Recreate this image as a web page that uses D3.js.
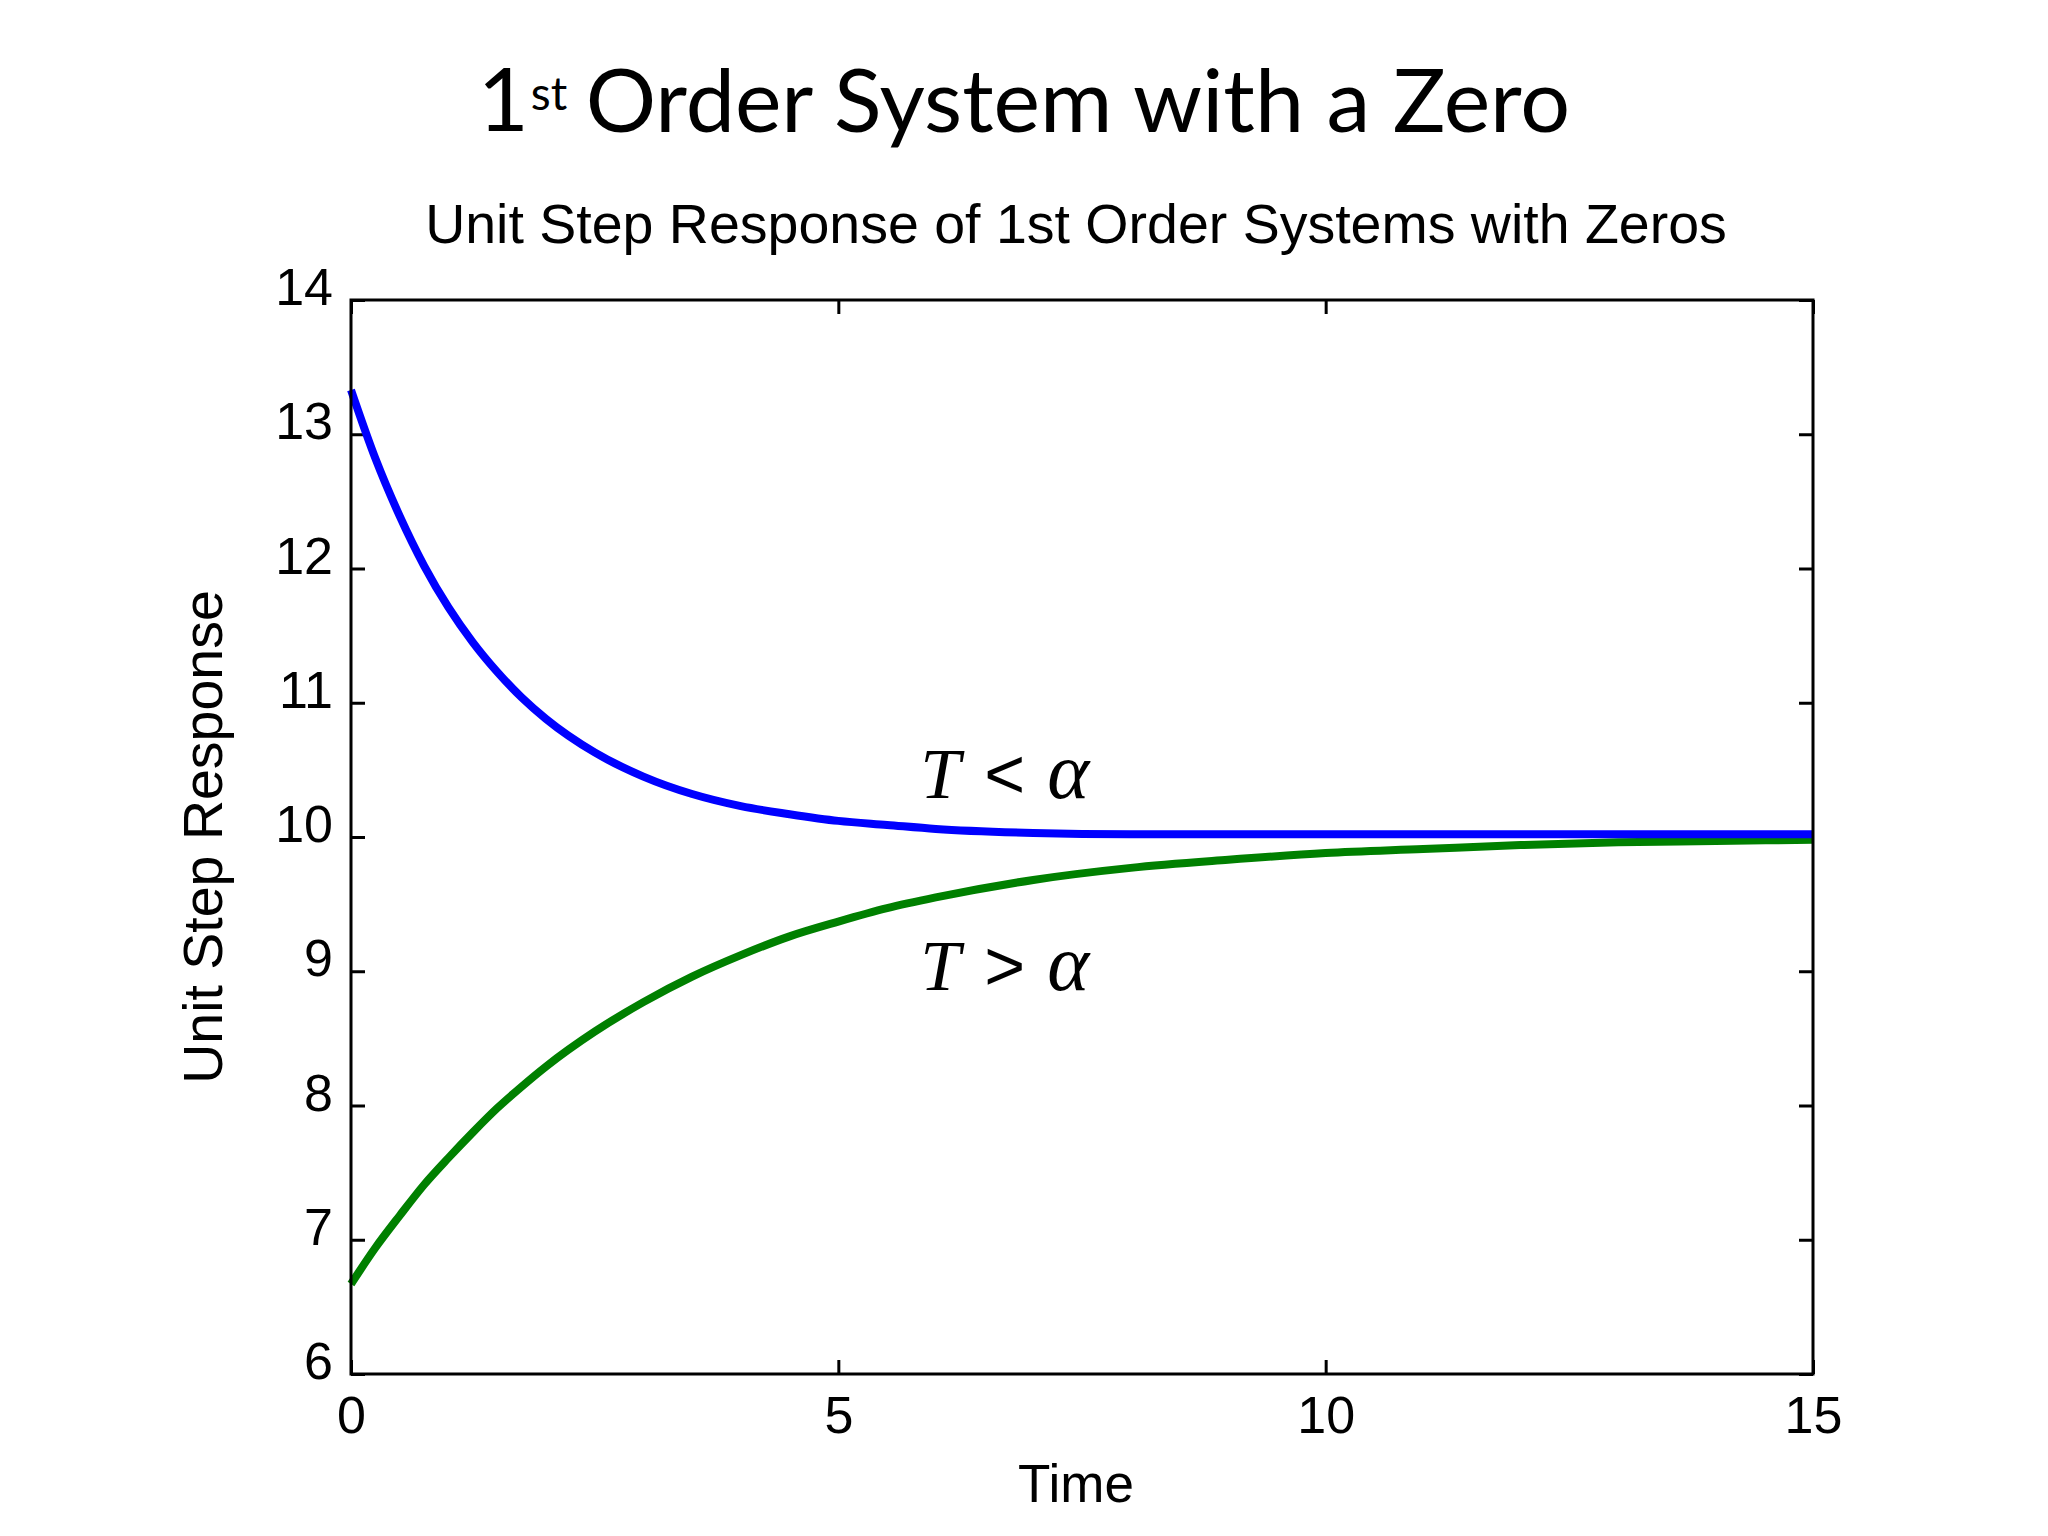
<!DOCTYPE html>
<html>
<head>
<meta charset="utf-8">
<script src="https://cdn.jsdelivr.net/npm/d3@7"></script>
<style>
  body { margin: 0; background: #fff; }
  svg text { font-family: "Liberation Sans", Arial, Helvetica, sans-serif; fill: #000; }
</style>
</head>
<body>
<svg id="chart"></svg>
<script>
// values
let times = [0, 0.25, 0.5, 0.75, 1, 1.25, 1.5, 1.75, 2, 2.5, 3, 3.5, 4, 4.5, 5, 5.5, 6, 7, 8, 9, 10, 11, 12, 13, 14, 15];
// T < alpha (blue)
let fastValues = [13.33, 12.82, 12.39, 12.02, 11.71, 11.45, 11.23, 11.04, 10.88, 10.63, 10.45, 10.32, 10.23, 10.17, 10.12, 10.09, 10.06, 10.03, 10.02, 10.02, 10.02, 10.02, 10.02, 10.02, 10.02, 10.02];
// T > alpha (green)
let slowValues = [6.67, 6.94, 7.18, 7.41, 7.61, 7.80, 7.98, 8.14, 8.29, 8.55, 8.77, 8.96, 9.12, 9.26, 9.37, 9.47, 9.55, 9.68, 9.77, 9.83, 9.88, 9.91, 9.94, 9.96, 9.97, 9.98];
let xTicks = [0, 5, 10, 15];
let yTicks = [6, 7, 8, 9, 10, 11, 12, 13, 14];

let width = 2048, height = 1536;
let margin = {top: 300, right: 235, bottom: 162, left: 351};

let svg = d3.select('#chart')
            .attr("width", width)
            .attr("height", height);

let x = d3.scaleLinear().domain([0, 15]).range([margin.left, width - margin.right]);
let y = d3.scaleLinear().domain([6, 14]).range([height - margin.bottom, margin.top]);

// slide title
let title = svg.append("text")
    .attr("x", 1024)
    .attr("y", 131)
    .attr("text-anchor", "middle")
    .style("font-family", "Lato, 'Open Sans', sans-serif")
    .style("font-size", "88px");
title.append("tspan").text("1");
title.append("tspan").attr("dy", "-0.46em").attr("dx", 2).style("font-size", "46px").text("st");
title.append("tspan").attr("dy", "0.25em").attr("dx", -4).text(" Order System with a Zero");

// plot title
svg.append("text")
    .attr("x", 1076)
    .attr("y", 243)
    .attr("text-anchor", "middle")
    .style("font-size", "55.5px")
    .text("Unit Step Response of 1st Order Systems with Zeros");

let tick = 14;

// bottom axis
let axBottom = svg.append("g")
    .attr("transform", "translate(0," + y(6) + ")")
    .call(d3.axisBottom(x).tickValues(xTicks).tickSizeInner(-tick).tickSizeOuter(0).tickPadding(22));
// top axis
let axTop = svg.append("g")
    .attr("transform", "translate(0," + y(14) + ")")
    .call(d3.axisTop(x).tickValues(xTicks).tickSizeInner(-tick).tickSizeOuter(0).tickFormat(""));
// left axis
let axLeft = svg.append("g")
    .attr("transform", "translate(" + x(0) + ",0)")
    .call(d3.axisLeft(y).tickValues(yTicks).tickSizeInner(-tick).tickSizeOuter(0).tickPadding(18));
// right axis
let axRight = svg.append("g")
    .attr("transform", "translate(" + x(15) + ",0)")
    .call(d3.axisRight(y).tickValues(yTicks).tickSizeInner(-tick).tickSizeOuter(0).tickFormat(""));

[axBottom, axTop, axLeft, axRight].forEach(function (g) {
    g.select(".domain").remove();
    g.selectAll(".tick line").attr("stroke", "#000").attr("stroke-width", 3);
});
axBottom.selectAll("text").style("font-size", "52px").attr("font-family", null);
axLeft.selectAll("text").style("font-size", "52px").attr("font-family", null).attr("y", -12);

// lines
let line = d3.line()
    .x(function (d) { return x(d[0]); })
    .y(function (d) { return y(d[1]); })
    .curve(d3.curveMonotoneX);

svg.append("path")
    .datum(d3.zip(times, slowValues))
    .attr("d", line)
    .attr("fill", "none")
    .attr("stroke", "#008000")
    .attr("stroke-width", 8);

svg.append("path")
    .datum(d3.zip(times, fastValues))
    .attr("d", line)
    .attr("fill", "none")
    .attr("stroke", "#0000ff")
    .attr("stroke-width", 8);

// frame
svg.append("rect")
    .attr("x", x(0))
    .attr("y", y(14))
    .attr("width", x(15) - x(0))
    .attr("height", y(6) - y(14))
    .attr("fill", "none")
    .attr("stroke", "#000")
    .attr("stroke-width", 3);

// annotations
let notes = [{v: 10.29, op: "<"}, {v: 8.86, op: ">"}];
notes.forEach(function (n) {
    let t = svg.append("text")
        .attr("x", x(5.84))
        .attr("y", y(n.v))
        .style("font-family", "'Liberation Serif', 'DejaVu Serif', serif")
        .style("font-size", "72px");
    t.append("tspan").style("font-style", "italic").text("T");
    t.append("tspan").attr("dx", 24).style("font-family", "'Liberation Sans', sans-serif").style("font-size", "70px").text(n.op);
    t.append("tspan").attr("dx", 22).style("font-style", "italic").style("font-size", "80px").text("α");
});

// axis labels
svg.append("text")
    .attr("x", 1076)
    .attr("y", 1502)
    .attr("text-anchor", "middle")
    .style("font-size", "53px")
    .text("Time");

svg.append("text")
    .attr("transform", "translate(222," + (y(6) + y(14)) / 2 + ") rotate(-90)")
    .attr("text-anchor", "middle")
    .style("font-size", "55.5px")
    .text("Unit Step Response");
</script>
</body>
</html>
